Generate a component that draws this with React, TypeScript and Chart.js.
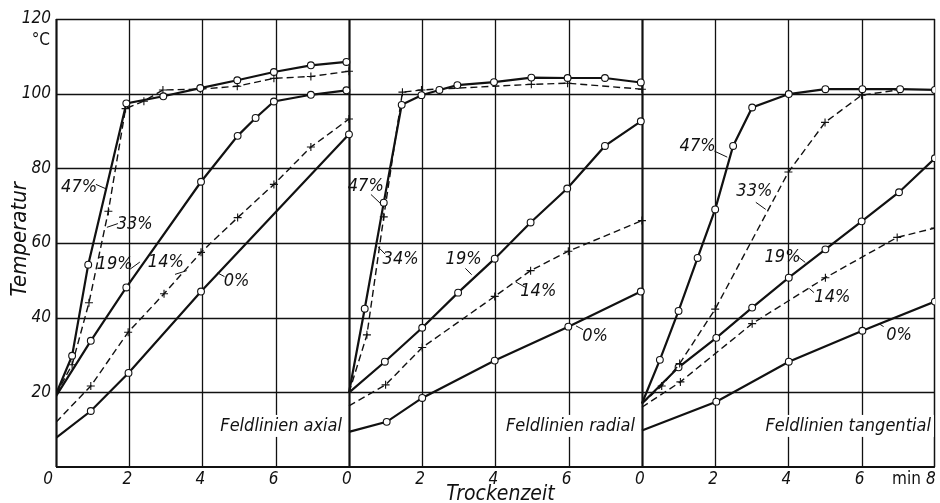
import { useEffect, useRef } from "react";
import { Chart, registerables } from "chart.js";

Chart.register(...registerables);

// Three panels side by side, each spanning 0..8 min of drying time.
const PANEL_SPAN = 8;
const panelNames = ["Feldlinien axial", "Feldlinien radial", "Feldlinien tangential"];
const xTickValues = [0, 2, 4, 6];
const yTickValues = [20, 40, 60, 80, 100, 120];

// --- Feldlinien axial ---
const axial47Time = [0, 0.44, 0.88, 1.92, 2.93, 3.94, 4.95, 5.95, 6.96, 7.93];
const axial47Temp = [19.5, 29.8, 54.2, 97.4, 99.3, 101.5, 103.6, 105.8, 107.6, 108.5];
const axial33Time = [0, 0.44, 0.9, 1.43, 1.9, 2.4, 2.92, 3.94, 4.95, 5.95, 6.96, 8];
const axial33Temp = [19.5, 27.4, 44, 68.5, 96, 98, 101, 101.2, 102, 104.1, 104.6, 106];
const axial19Time = [0, 0.95, 1.92, 3.96, 4.96, 5.45, 5.95, 6.96, 7.93];
const axial19Temp = [19, 33.8, 48.1, 76.4, 88.7, 93.5, 97.9, 99.7, 100.9];
const axial14Time = [0, 0.95, 1.97, 2.95, 3.96, 4.96, 5.95, 6.96, 8];
const axial14Temp = [12, 21.7, 36.1, 46.4, 57.5, 66.8, 75.7, 85.7, 93.2];
const axial0Time = [0, 0.95, 1.98, 3.96, 8];
const axial0Temp = [7.8, 15, 25.2, 47, 89.1];

// --- Feldlinien radial ---
const radial47Time = [0, 0.43, 0.95, 1.44, 1.98, 2.47, 2.96, 3.96, 4.98, 5.97, 6.99, 7.97];
const radial47Temp = [19.9, 42.4, 70.8, 97, 99.6, 101, 102.3, 103.1, 104.3, 104.2, 104.2, 103];
const radial34Time = [0, 0.49, 0.95, 1.46, 1.98, 4.98, 5.97, 8];
const radial34Temp = [19.9, 35.4, 67, 100.4, 101, 102.5, 102.8, 101.2];
const radial19Time = [0, 0.98, 2, 2.98, 3.98, 4.96, 5.96, 6.99, 7.97];
const radial19Temp = [19.9, 28.2, 37.3, 46.7, 55.8, 65.5, 74.6, 86, 92.6];
const radial14Time = [0, 1, 2, 3.98, 4.96, 5.99, 8];
const radial14Temp = [16.4, 22, 32, 45.7, 52.6, 57.8, 66];
const radial0Time = [0, 1.03, 2, 3.98, 5.99, 7.97];
const radial0Temp = [9.4, 12.1, 18.5, 28.5, 37.6, 47];

// --- Feldlinien tangential ---
const tang47Time = [0, 0.49, 1, 1.52, 2, 2.49, 3.01, 4.01, 5.01, 6.02, 7.05, 8];
const tang47Temp = [17, 28.7, 41.8, 56, 69, 86, 96.3, 99.9, 101.2, 101.2, 101.2, 101];
const tang33Time = [0, 0.54, 1.03, 2, 4, 5, 6, 7];
const tang33Temp = [17, 21.7, 27.7, 42.3, 79, 92.3, 99.6, 101];
const tang19Time = [0, 1, 2.03, 3.01, 4.01, 5.01, 6, 7.02, 8];
const tang19Temp = [17, 26.7, 34.6, 42.7, 50.7, 58.3, 65.8, 73.6, 82.7];
const tang14Time = [0, 1.05, 3.01, 5.01, 6.97, 8];
const tang14Temp = [16, 22.8, 38.4, 50.7, 61.5, 64];
const tang0Time = [0, 2.03, 4.01, 6.02, 8];
const tang0Temp = [9.8, 17.5, 28.2, 36.5, 44.3];

type Series = { panel: number; name: string; time: number[]; temp: number[]; dashed: boolean };

const series: Series[] = [
  { panel: 0, name: "47%", time: axial47Time, temp: axial47Temp, dashed: false },
  { panel: 0, name: "33%", time: axial33Time, temp: axial33Temp, dashed: true },
  { panel: 0, name: "19%", time: axial19Time, temp: axial19Temp, dashed: false },
  { panel: 0, name: "14%", time: axial14Time, temp: axial14Temp, dashed: true },
  { panel: 0, name: "0%", time: axial0Time, temp: axial0Temp, dashed: false },
  { panel: 1, name: "47%", time: radial47Time, temp: radial47Temp, dashed: false },
  { panel: 1, name: "34%", time: radial34Time, temp: radial34Temp, dashed: true },
  { panel: 1, name: "19%", time: radial19Time, temp: radial19Temp, dashed: false },
  { panel: 1, name: "14%", time: radial14Time, temp: radial14Temp, dashed: true },
  { panel: 1, name: "0%", time: radial0Time, temp: radial0Temp, dashed: false },
  { panel: 2, name: "47%", time: tang47Time, temp: tang47Temp, dashed: false },
  { panel: 2, name: "33%", time: tang33Time, temp: tang33Temp, dashed: true },
  { panel: 2, name: "19%", time: tang19Time, temp: tang19Temp, dashed: false },
  { panel: 2, name: "14%", time: tang14Time, temp: tang14Temp, dashed: true },
  { panel: 2, name: "0%", time: tang0Time, temp: tang0Temp, dashed: false },
];

// Curve captions in data units of the joined axis: text centre, then a short leader line.
const captions: { text: string; x: number; y: number; lead: [number, number, number, number] }[] = [
  { text: "47%", x: 0.63, y: 74.9, lead: [1.09, 75.7, 1.39, 74.4] },
  { text: "33%", x: 2.15, y: 65, lead: [1.69, 65.2, 1.39, 64.2] },
  { text: "19%", x: 1.6, y: 54.2, lead: [2.01, 52.9, 2.29, 54.9] },
  { text: "14%", x: 3.0, y: 54.8, lead: [3.25, 51.6, 3.57, 52.6] },
  { text: "0%", x: 4.93, y: 49.7, lead: [4.6, 51.0, 4.41, 52.0] },
  { text: "47%", x: 8.46, y: 75.2, lead: [8.6, 73.0, 8.87, 70.5] },
  { text: "34%", x: 9.41, y: 55.6, lead: [8.99, 57.0, 8.79, 59.0] },
  { text: "19%", x: 11.13, y: 55.6, lead: [11.18, 53.2, 11.35, 51.5] },
  { text: "14%", x: 13.17, y: 47, lead: [12.84, 48.0, 12.55, 49.6] },
  { text: "0%", x: 14.72, y: 34.9, lead: [14.39, 36.8, 14.2, 37.8] },
  { text: "47%", x: 17.52, y: 85.9, lead: [17.98, 84.6, 18.33, 83.0] },
  { text: "33%", x: 19.07, y: 73.8, lead: [19.11, 70.9, 19.38, 69.0] },
  { text: "19%", x: 19.84, y: 56.1, lead: [20.25, 56.4, 20.46, 54.8] },
  { text: "14%", x: 21.2, y: 45.4, lead: [20.7, 46.7, 20.57, 47.8] },
  { text: "0%", x: 23.02, y: 35.4, lead: [22.6, 37.6, 22.47, 38.4] },
];

const FONT = "'Liberation Sans Narrow', 'DejaVu Sans Condensed', 'Liberation Sans', sans-serif";
const INK = "#111";

const framePlugin = {
  id: "frame",
  beforeDatasetsDraw(chart: any) {
    const { ctx, chartArea: a, scales } = chart;
    const xs = scales.x;
    const ys = scales.y;
    ctx.save();
    ctx.strokeStyle = INK;

    // horizontal grid
    ctx.lineWidth = 1.3;
    for (const v of yTickValues) {
      const py = Math.round(ys.getPixelForValue(v)) + 0.5;
      ctx.beginPath();
      ctx.moveTo(a.left, py);
      ctx.lineTo(a.right, py);
      ctx.stroke();
    }
    // vertical grid, heavier at each panel's time origin
    for (let p = 0; p < panelNames.length; p++) {
      for (const t of xTickValues) {
        const px = Math.round(xs.getPixelForValue(p * PANEL_SPAN + t)) + 0.5;
        ctx.lineWidth = t === 0 ? 2.2 : 1.3;
        ctx.beginPath();
        ctx.moveTo(px, a.top);
        ctx.lineTo(px, a.bottom);
        ctx.stroke();
      }
    }
    const rx = Math.round(xs.getPixelForValue(panelNames.length * PANEL_SPAN)) - 0.5;
    ctx.lineWidth = 1.5;
    ctx.beginPath();
    ctx.moveTo(rx, a.top);
    ctx.lineTo(rx, a.bottom);
    ctx.stroke();
    // bottom axis
    ctx.lineWidth = 2.2;
    ctx.beginPath();
    ctx.moveTo(a.left, a.bottom);
    ctx.lineTo(a.right, a.bottom);
    ctx.stroke();

    // tick labels
    ctx.fillStyle = INK;
    ctx.font = `italic 17px ${FONT}`;
    ctx.textAlign = "right";
    ctx.textBaseline = "middle";
    for (const v of yTickValues) {
      ctx.fillText(String(v), a.left - 5, ys.getPixelForValue(v));
    }
    ctx.font = `17px ${FONT}`;
    ctx.fillText("°C", a.left - 6, ys.getPixelForValue(120) + 22);

    ctx.font = `italic 17px ${FONT}`;
    ctx.textAlign = "center";
    const tickY = a.bottom + 13;
    for (let p = 0; p < panelNames.length; p++) {
      for (const t of xTickValues) {
        const px = xs.getPixelForValue(p * PANEL_SPAN + t);
        ctx.fillText(String(t), p === 0 && t === 0 ? px - 8 : px - 2, tickY);
      }
    }
    const endX = xs.getPixelForValue(panelNames.length * PANEL_SPAN);
    ctx.fillText(String(PANEL_SPAN), endX - 4, tickY);
    ctx.font = `17px ${FONT}`;
    ctx.textAlign = "right";
    ctx.fillText("min", endX - 14, tickY);

    // axis titles
    ctx.font = `italic 21px ${FONT}`;
    ctx.textAlign = "center";
    ctx.fillText("Trockenzeit", xs.getPixelForValue(PANEL_SPAN * 1.5) + 5, a.bottom + 28);
    ctx.save();
    ctx.translate(20, ys.getPixelForValue(61));
    ctx.rotate(-Math.PI / 2);
    ctx.font = `italic 22px ${FONT}`;
    ctx.fillText("Temperatur", 0, 0);
    ctx.restore();

    // panel names on a white ground
    ctx.font = `italic 18px ${FONT}`;
    ctx.textAlign = "right";
    const nameY = ys.getPixelForValue(11);
    panelNames.forEach((name, p) => {
      const right = xs.getPixelForValue((p + 1) * PANEL_SPAN) - (p === 2 ? 4 : 7);
      const w = ctx.measureText(name).width;
      ctx.fillStyle = "#fff";
      ctx.fillRect(right - w - 3, nameY - 11, w + 6, 22);
      ctx.fillStyle = INK;
      ctx.fillText(name, right, nameY);
    });
    ctx.restore();
  },
  afterDatasetsDraw(chart: any) {
    const { ctx, scales } = chart;
    const xs = scales.x;
    const ys = scales.y;
    ctx.save();
    ctx.fillStyle = INK;
    ctx.strokeStyle = INK;
    ctx.lineWidth = 1;
    ctx.font = `italic 18px ${FONT}`;
    ctx.textAlign = "center";
    ctx.textBaseline = "middle";
    for (const c of captions) {
      ctx.fillText(c.text, xs.getPixelForValue(c.x), ys.getPixelForValue(c.y));
      ctx.beginPath();
      ctx.moveTo(xs.getPixelForValue(c.lead[0]), ys.getPixelForValue(c.lead[1]));
      ctx.lineTo(xs.getPixelForValue(c.lead[2]), ys.getPixelForValue(c.lead[3]));
      ctx.stroke();
    }
    ctx.restore();
  },
};

export default function App() {
  const canvasRef = useRef<HTMLCanvasElement | null>(null);

  useEffect(() => {
    document.body.style.margin = "0";
    const canvas = canvasRef.current;
    if (!canvas) return;
    const datasets = series.map((s) => ({
      label: `${panelNames[s.panel]} ${s.name}`,
      data: s.time.map((t, i) => ({ x: s.panel * PANEL_SPAN + t, y: s.temp[i] })),
      borderColor: INK,
      borderWidth: s.dashed ? 1.4 : 2.2,
      borderDash: s.dashed ? [7, 4] : [],
      tension: 0,
      fill: false,
      pointStyle: s.dashed ? "cross" : "circle",
      pointRadius: (ctx: any) => (ctx.dataIndex === 0 ? 0 : s.dashed ? 4 : 3.4),
      pointBackgroundColor: "#fff",
      pointBorderColor: INK,
      pointBorderWidth: 1.1,
    }));
    const chart = new Chart(canvas, {
      type: "line",
      data: { datasets },
      options: {
        responsive: false,
        animation: false,
        devicePixelRatio: 1,
        layout: { padding: { left: 56, right: 2, top: 19, bottom: 36 } },
        scales: {
          x: { type: "linear", min: 0, max: panelNames.length * PANEL_SPAN, display: false },
          y: { type: "linear", min: 0, max: 120, display: false },
        },
        plugins: { legend: { display: false }, tooltip: { enabled: false } },
      },
      plugins: [framePlugin],
    });
    return () => chart.destroy();
  }, []);

  return (
    <div style={{ position: "fixed", left: 0, top: 0, width: 940, height: 503, background: "#fff" }}>
      <canvas ref={canvasRef} width={940} height={503} />
    </div>
  );
}
